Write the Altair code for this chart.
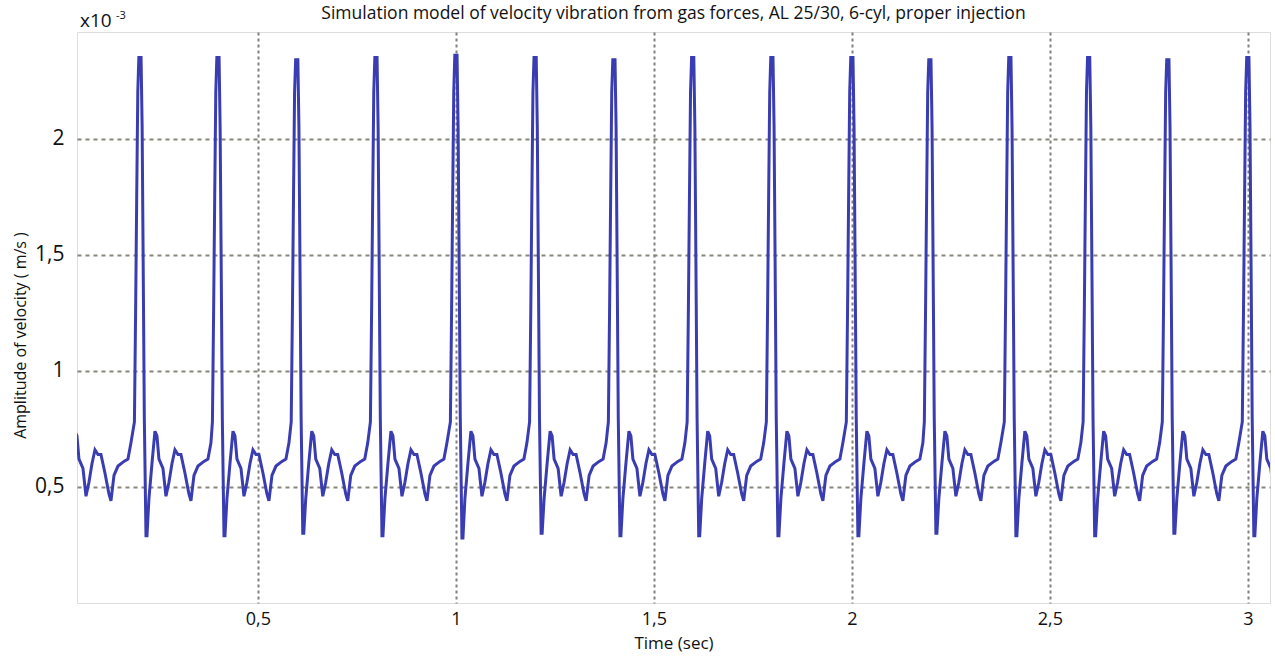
import altair as alt
import pandas as pd

# Times (s) of the firing peaks (first one lies just left of the view)
peak_times = [0.000, 0.202, 0.399, 0.598, 0.798, 1.000, 1.200, 1.399, 1.598,
              1.798, 2.000, 2.197, 2.399, 2.598, 2.798, 3.000]
# Peak heights and trough values (x10^-3 m/s) per cycle
peak_heights = [2.35, 2.35, 2.35, 2.34, 2.35, 2.36, 2.35, 2.34, 2.35,
                2.35, 2.35, 2.34, 2.35, 2.35, 2.34, 2.35]
trough_values = [0.29, 0.29, 0.29, 0.30, 0.29, 0.28, 0.30, 0.29, 0.29,
                 0.29, 0.29, 0.30, 0.29, 0.29, 0.30, 0.29]

# Shape of one cycle around a peak: time offset (s) and amplitude (x10^-3 m/s)
cycle_offsets = [-0.0140, -0.0110, -0.0082, -0.0055, -0.0028, 0.0028, 0.0055,
                 0.0082, 0.0110, 0.0152, 0.0177, 0.0227, 0.0303, 0.0379, 0.0429,
                 0.0480, 0.0581, 0.0657, 0.0732, 0.0808, 0.0884, 0.0960, 0.1035,
                 0.1136, 0.1237, 0.1288, 0.1364, 0.1465, 0.1616, 0.1717, 0.1793]
cycle_values = [0.78, 1.25, 1.75, 2.20, None, None, 2.05,
                1.45, 0.80, None, None, 0.45, 0.60, 0.74, 0.72,
                0.62, 0.58, 0.46, 0.52, 0.60, 0.66, 0.64, 0.64,
                0.56, 0.47, 0.44, 0.55, 0.59, 0.61, 0.62, 0.69]

rows = []
for k, pt in enumerate(peak_times):
    for off, val in zip(cycle_offsets, cycle_values):
        if val is None:
            val = peak_heights[k] if off < 0.005 else trough_values[k]
        rows.append({"t": round(pt + off, 4), "v": val})
df = pd.DataFrame(rows)

FONT = "Open Sans"
TXT = "#111111"

x_axis = alt.Axis(
    values=[0.5, 1, 1.5, 2, 2.5, 3],
    labelExpr="replace(format(datum.value, '~g'), '.', ',')",
    title="Time (sec)", grid=True, gridDash=[3, 3], gridColor="#808080",
    gridWidth=2, ticks=False, domain=False, labelFontSize=18, labelPadding=7,
    titleFontSize=17, titlePadding=7, labelFont=FONT, titleFont=FONT,
    labelColor=TXT, titleColor=TXT, titleFontWeight="normal",
)
y_axis = alt.Axis(
    values=[0.5, 1, 1.5, 2],
    labelExpr="replace(format(datum.value, '~g'), '.', ',')",
    title="Amplitude of velocity ( m/s )", grid=True, gridDash=[4, 4],
    gridColor="#858578", gridWidth=2, ticks=False, domain=False,
    labelFontSize=21, labelPadding=13, titleFontSize=16, labelFont=FONT,
    titleFont=FONT, labelColor=TXT, titleColor=TXT, titleFontWeight="normal",
    titleX=-57, titleY=303, titleBaseline="middle", titleAngle=270,
)

line = alt.Chart(df).mark_line(color="#3a3db2", strokeWidth=3, clip=True).encode(
    x=alt.X("t:Q", scale=alt.Scale(domain=[0.043, 3.056], nice=False, zero=False), axis=x_axis),
    y=alt.Y("v:Q", scale=alt.Scale(domain=[0, 2.46], nice=False, zero=False), axis=y_axis),
)

mult = alt.Chart(pd.DataFrame({"s": ["x10"]})).mark_text(
    font=FONT, fontSize=19, color=TXT, align="left", baseline="alphabetic"
).encode(x=alt.value(3), y=alt.value(-5), text="s:N")
expo = alt.Chart(pd.DataFrame({"s": ["-3"]})).mark_text(
    font=FONT, fontSize=11, color=TXT, align="left", baseline="alphabetic"
).encode(x=alt.value(39), y=alt.value(-13), text="s:N")

chart = alt.layer(line, mult, expo).properties(
    width=1193, height=571,
    title=alt.TitleParams(
        "Simulation model of velocity vibration from gas forces, AL 25/30, 6-cyl, proper injection",
        font=FONT, fontSize=17.5, fontWeight="normal", color=TXT, anchor="middle",
        offset=9, dy=21,
    ),
    autosize=alt.AutoSizeParams(type="none"),
    padding={"left": 77, "top": 32, "right": 5, "bottom": 55},
).configure_view(stroke="#9a9a9a", strokeWidth=2).configure(background="white")

chart.save("out.html", embed_options={"renderer": "svg", "actions": False})
